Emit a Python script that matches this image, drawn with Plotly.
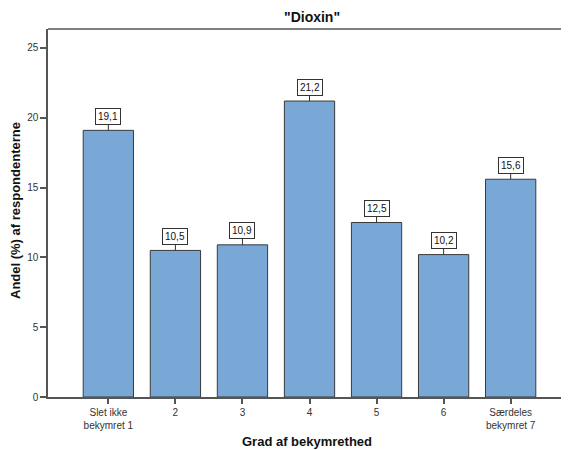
import plotly.graph_objects as go

categories = ["Slet ikke<br>bekymret 1", "2", "3", "4", "5", "6", "Særdeles<br>bekymret 7"]
values = [19.1, 10.5, 10.9, 21.2, 12.5, 10.2, 15.6]
labels = ["19,1", "10,5", "10,9", "21,2", "12,5", "10,2", "15,6"]
y_ticks = [0, 5, 10, 15, 20, 25]

FONT = "Liberation Sans, Arial, sans-serif"
OFF = 8  # default page body margin
W, H = 569 - OFF, 450 - OFF
# plot area in page pixels
PL, PR, PT, PB = 48, 569, 29, 397
L, T, B = PL - OFF, PT - OFF, H - (PB - OFF)
PW, PH = PR - PL, PB - PT

fig = go.Figure()
fig.add_trace(go.Bar(
    x=list(range(len(categories))), y=values,
    marker=dict(color="#79a8d6", line=dict(color="#3a3a3a", width=1)),
    width=0.75, hoverinfo="skip",
))

for i, (v, t) in enumerate(zip(values, labels)):
    fig.add_annotation(
        x=i, y=v, xref="x", yref="y", text=t,
        showarrow=True, arrowhead=0, arrowwidth=1, arrowcolor="#333",
        ax=0, ay=-14, standoff=0, startstandoff=0,
        bordercolor="#333", borderwidth=1, borderpad=2, bgcolor="white",
        font=dict(family=FONT, size=10, color="#111"),
    )

fig.add_annotation(text="<b>Grad af bekymrethed</b>", xref="paper", yref="paper",
                   x=(307 - PL) / PW, y=-(441 - PB) / PH,
                   xanchor="center", yanchor="middle", showarrow=False,
                   font=dict(family=FONT, size=13, color="#111"))
fig.add_annotation(text="<b>Andel (%) af respondenterne</b>", xref="paper", yref="paper",
                   x=-(PL - 15) / PW, y=(PB - 211) / PH,
                   xanchor="center", yanchor="middle", textangle=-90, showarrow=False,
                   font=dict(family=FONT, size=13, color="#111"))
fig.add_annotation(text='<b>"Dioxin"</b>', xref="paper", yref="paper",
                   x=(312 - PL) / PW, y=1 + (PT - 17) / PH,
                   xanchor="center", yanchor="middle", showarrow=False,
                   font=dict(family=FONT, size=14, color="#111"))

fig.update_layout(
    width=W, height=H,
    margin=dict(l=L, r=0, t=T, b=B),
    paper_bgcolor="white", plot_bgcolor="white",
    showlegend=False,
    font=dict(family=FONT),
    xaxis=dict(
        tickmode="array", tickvals=list(range(len(categories))), ticktext=categories,
        range=[-0.9, 6.87], showgrid=False, zeroline=False, automargin=False,
        showline=True, linecolor="#555", linewidth=1.5,
        ticks="outside", ticklen=5, tickcolor="#555", tickwidth=1.5,
        tickfont=dict(family=FONT, size=10, color="#333"),
    ),
    yaxis=dict(
        range=[0, 26.36], tickvals=y_ticks, ticktext=[str(t) for t in y_ticks],
        showgrid=False, zeroline=False, automargin=False,
        showline=True, linecolor="#555", linewidth=1.5,
        ticks="outside", ticklen=6, tickcolor="#555", tickwidth=1.5,
        tickfont=dict(family=FONT, size=10, color="#333"),
    ),
)

fig.add_shape(type="line", xref="paper", yref="paper", x0=0, x1=1, y0=1, y1=1,
              line=dict(color="#555", width=1.5))

fig.write_html("out.html")
